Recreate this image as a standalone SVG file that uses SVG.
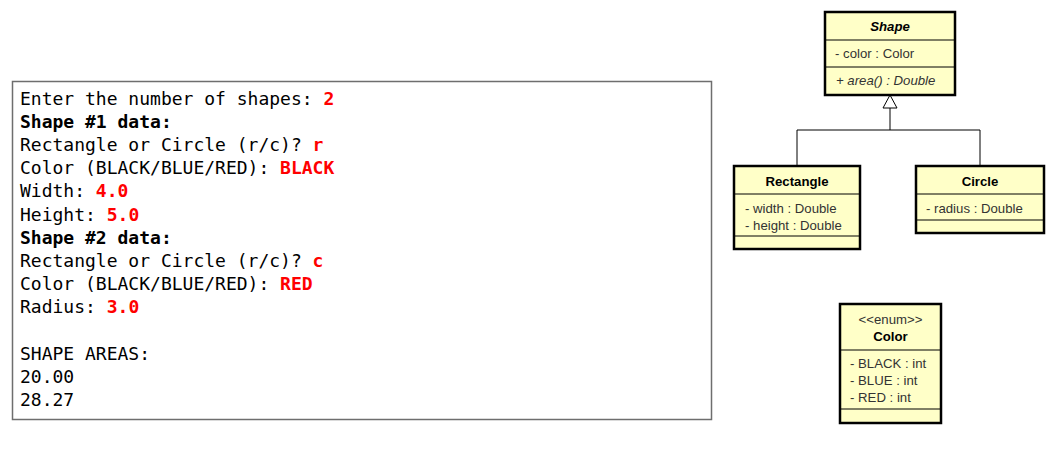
<svg xmlns="http://www.w3.org/2000/svg" width="1062" height="461" viewBox="0 0 1062 461">
<style>
.con{font-family:"DejaVu Sans Mono","Liberation Mono",monospace;font-size:18px;fill:#000}
.b{font-weight:bold}
.r{fill:#ff0000;font-weight:bold}
.box{fill:#ffffc8;stroke:#000;stroke-width:2.5}
.div{stroke:#000;stroke-width:1;fill:none}
.u{font-family:"Liberation Sans",Arial,sans-serif;font-size:13.2px;fill:#333}
.t{font-weight:bold;fill:#000;text-anchor:middle}
.conn{stroke:#000;stroke-width:1;fill:none}
</style>
<rect width="1062" height="461" fill="#fff"/>
<g id="console">
<rect x="12.5" y="81.5" width="699" height="338" fill="#fff" stroke="#6e6e6e" stroke-width="1.5"/>
<text class="con" x="20" y="104.5">Enter the number of shapes: <tspan class="r">2</tspan></text>
<text class="con b" x="20" y="127.7">Shape #1 data:</text>
<text class="con" x="20" y="150.9">Rectangle or Circle (r/c)? <tspan class="r">r</tspan></text>
<text class="con" x="20" y="174.1">Color (BLACK/BLUE/RED): <tspan class="r">BLACK</tspan></text>
<text class="con" x="20" y="197.3">Width: <tspan class="r">4.0</tspan></text>
<text class="con" x="20" y="220.5">Height: <tspan class="r">5.0</tspan></text>
<text class="con b" x="20" y="243.7">Shape #2 data:</text>
<text class="con" x="20" y="266.9">Rectangle or Circle (r/c)? <tspan class="r">c</tspan></text>
<text class="con" x="20" y="290.1">Color (BLACK/BLUE/RED): <tspan class="r">RED</tspan></text>
<text class="con" x="20" y="313.3">Radius: <tspan class="r">3.0</tspan></text>
<text class="con" x="20" y="359.7">SHAPE AREAS:</text>
<text class="con" x="20" y="382.9">20.00</text>
<text class="con" x="20" y="406.1">28.27</text>
</g>
<g id="connectors">
<path class="conn" d="M890 108 V130 M797 166 V130 H980 V166"/>
<polygon points="890,95 883,108 897,108" fill="#fff" stroke="#000" stroke-width="1"/>
</g>
<g id="Shape">
<rect class="box" x="825" y="12" width="130" height="83"/>
<line class="div" x1="825" y1="40" x2="955" y2="40"/>
<line class="div" x1="825" y1="67" x2="955" y2="67"/>
<text class="u t" x="890" y="31" font-style="italic">Shape</text>
<text class="u" x="835" y="57.5">- color : Color</text>
<text class="u" x="836" y="84.5" font-style="italic">+ area() : Double</text>
</g>
<g id="Rectangle">
<rect class="box" x="734" y="166" width="126" height="83"/>
<line class="div" x1="734" y1="194" x2="860" y2="194"/>
<line class="div" x1="734" y1="236" x2="860" y2="236"/>
<text class="u t" x="797" y="185.5">Rectangle</text>
<text class="u" x="745" y="212.5">- width : Double</text>
<text class="u" x="745" y="229.5">- height : Double</text>
</g>
<g id="Circle">
<rect class="box" x="916" y="166" width="128" height="67"/>
<line class="div" x1="916" y1="194" x2="1044" y2="194"/>
<line class="div" x1="916" y1="220" x2="1044" y2="220"/>
<text class="u t" x="980" y="185.5">Circle</text>
<text class="u" x="926" y="212.5">- radius : Double</text>
</g>
<g id="Color">
<rect class="box" x="840" y="304" width="101" height="119"/>
<line class="div" x1="840" y1="350" x2="941" y2="350"/>
<line class="div" x1="840" y1="409" x2="941" y2="409"/>
<text class="u" x="890.5" y="323.5" text-anchor="middle" font-size="11">&lt;&lt;enum&gt;&gt;</text>
<text class="u t" x="890.5" y="340.5">Color</text>
<text class="u" x="850" y="367.5">- BLACK : int</text>
<text class="u" x="850" y="384.5">- BLUE : int</text>
<text class="u" x="850" y="401.5">- RED : int</text>
</g>
</svg>
